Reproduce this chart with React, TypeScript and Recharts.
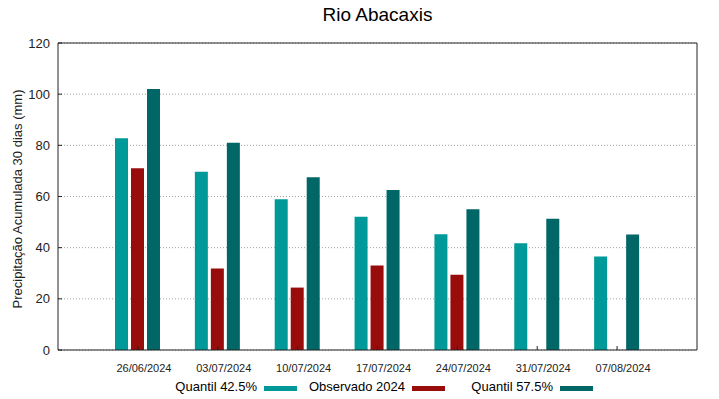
import { BarChart, Bar, XAxis, YAxis, CartesianGrid } from "recharts";

const dates = ["26/06/2024", "03/07/2024", "10/07/2024", "17/07/2024", "24/07/2024", "31/07/2024", "07/08/2024"];
const quantil425 = [82.8, 69.7, 58.9, 52.1, 45.2, 41.7, 36.5];
const observado = [71.0, 31.9, 24.4, 33.0, 29.4, null, null];
const quantil575 = [102.0, 81.0, 67.5, 62.5, 55.0, 51.3, 45.1];
const yTicks = [0, 20, 40, 60, 80, 100, 120];

const series = [
  { key: "q425", name: "Quantil 42.5%", color: "#009999" },
  { key: "obs", name: "Observado 2024", color: "#990c0c" },
  { key: "q575", name: "Quantil 57.5%", color: "#006666" },
];

const data = dates.map((date, i) => ({
  date,
  q425: quantil425[i],
  obs: observado[i],
  q575: quantil575[i],
}));

const font = "'Liberation Sans', Arial, sans-serif";

export default function App() {
  return (
    <div style={{ position: "absolute", left: 0, top: 0, width: 719, height: 399, background: "#fff", fontFamily: font }}>
      <div style={{ position: "absolute", left: 0, width: 755, top: 4, textAlign: "center", fontSize: 19, color: "#000" }}>
        Rio Abacaxis
      </div>
      <BarChart
        width={719}
        height={399}
        data={data}
        margin={{ top: 42, right: 21, bottom: 19, left: 0 }}
        barSize={13}
        barGap={3}
      >
        <CartesianGrid vertical={false} stroke="#a0a0a0" strokeDasharray="1 2" />
        <XAxis
          dataKey="date"
          padding={{ left: 40, right: 40 }}
          height={30}
          stroke="#222"
          tickSize={-4}
          tickMargin={18}
          tick={{ fontSize: 11, fill: "#222", dx: 6, fontFamily: font }}
          interval={0}
        />
        <XAxis
          xAxisId="top"
          orientation="top"
          dataKey="date"
          padding={{ left: 40, right: 40 }}
          height={1}
          stroke="#222"
          tickSize={-4}
          tick={false}
          interval={0}
        />
        <YAxis
          domain={[0, 120]}
          ticks={yTicks}
          width={58}
          stroke="#222"
          tickSize={-4}
          tickMargin={12}
          tick={{ fontSize: 13, fill: "#222", fontFamily: font }}
          label={() => (
            <text
              x={17}
              y={199}
              transform="rotate(-90 17 199)"
              textAnchor="middle"
              dominantBaseline="central"
              fontSize={13}
              fill="#222"
              fontFamily={font}
            >
              Precipitação Acumulada 30 dias (mm)
            </text>
          )}
        />
        <YAxis
          yAxisId="right"
          orientation="right"
          domain={[0, 120]}
          ticks={yTicks}
          width={1}
          stroke="#222"
          tickSize={-4}
          tick={false}
        />
        {series.map((s) => (
          <Bar key={s.key} dataKey={s.key} name={s.name} fill={s.color} isAnimationActive={false} />
        ))}
      </BarChart>
      {series.map((s, i) => (
        <div key={s.key}>
          <div
            style={{
              position: "absolute",
              left: 100 + 148 * i,
              width: 157,
              top: 379,
              textAlign: "right",
              fontSize: 13,
              color: "#000",
            }}
          >
            {s.name}
          </div>
          <div
            style={{
              position: "absolute",
              left: 264 + 148 * i,
              top: 386,
              width: 33,
              height: 5,
              background: s.color,
            }}
          />
        </div>
      ))}
    </div>
  );
}
